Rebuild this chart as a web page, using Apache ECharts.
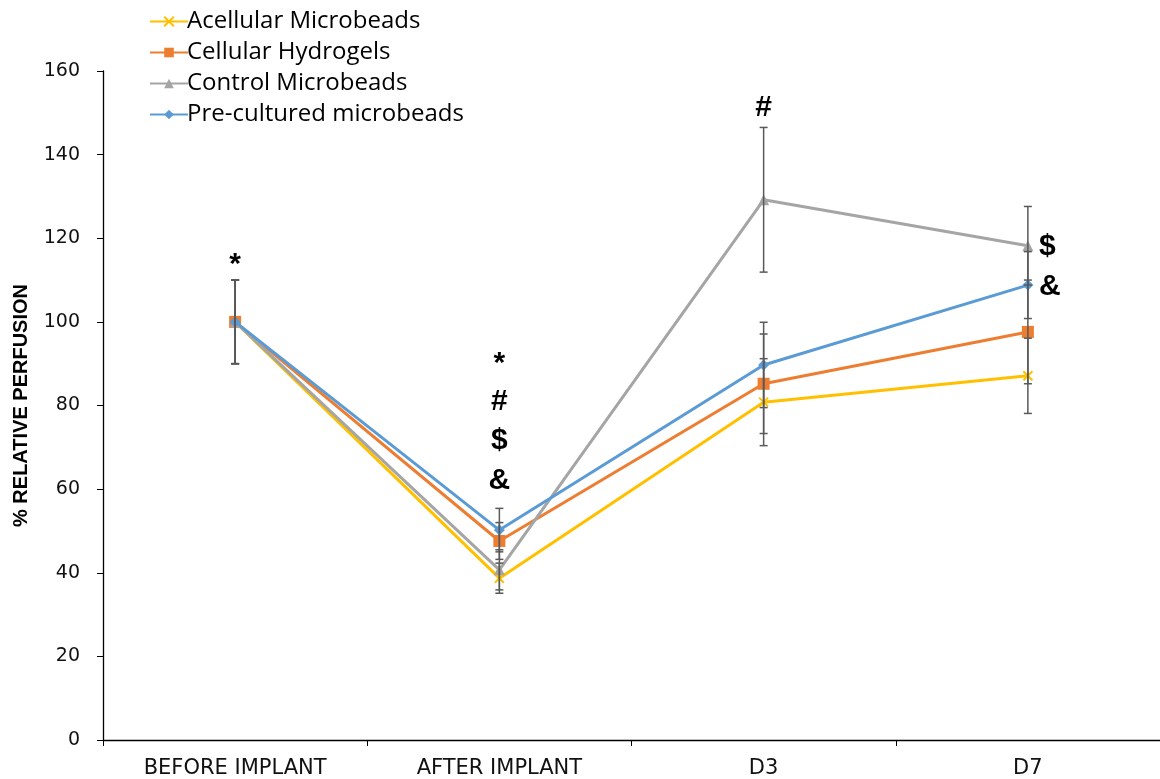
<!DOCTYPE html>
<html>
<head>
<meta charset="utf-8">
<script src="https://cdn.jsdelivr.net/npm/echarts@6/dist/echarts.min.js"></script>
<style>
  html, body { margin: 0; padding: 0; background: #fff; }
  #chart { width: 1160px; height: 779px; }
</style>
</head>
<body>
<div id="chart"></div>
<script>
// Time points
const categories = ['BEFORE IMPLANT', 'AFTER IMPLANT', 'D3', 'D7'];

// Mean relative perfusion (%) per group
const acellular = [100, 38.7, 80.8, 87.1];
const cellular = [100, 47.6, 85.2, 97.6];
const control = [100, 40.7, 129.2, 118.2];
const precultured = [100, 50.2, 89.7, 108.8];

// Error bar half-lengths (SD)
const acellularErr = [10, 3.6, 10.4, 9.0];
const cellularErr = [10, 4.4, 11.9, 12.4];
const controlErr = [10, 4.8, 17.3, 9.4];
const preculturedErr = [10, 5.2, 10.2, 8.0];

// Y axis
const yTicks = [0, 20, 40, 60, 80, 100, 120, 140, 160];

// Significance markers: category index, value level, symbol
const annCategory = [0, 1, 1, 1, 1, 2, 3, 3];
const annValue = [113.6, 90.0, 80.9, 71.5, 62.0, 151.2, 118.0, 108.4];
const annText = ['*', '*', '#', '$', '&', '#', '$', '&'];

const names = ['Acellular Microbeads', 'Cellular Hydrogels', 'Control Microbeads', 'Pre-cultured microbeads'];
const colors = ['#FFC000', '#ED7D31', '#A5A5A5', '#5B9BD5'];
const values = [acellular, cellular, control, precultured];
const errors = [acellularErr, cellularErr, controlErr, preculturedErr];

const crossPath = 'path://M0,0L10,10M10,0L0,10';
const symbols = [crossPath, 'rect', 'triangle', 'diamond'];
const symbolSizes = [9, 12, 11, 11];

const chart = echarts.init(document.getElementById('chart'));

const lineSeries = names.map((name, i) => ({
  name: name,
  type: 'line',
  data: values[i],
  symbol: symbols[i],
  symbolSize: symbolSizes[i],
  showAllSymbol: true,
  lineStyle: { color: colors[i], width: 3 },
  itemStyle: i === 0
    ? { color: 'rgba(0,0,0,0)', borderColor: colors[i], borderWidth: 2 }
    : { color: colors[i], borderWidth: 0 },
  z: 3 + i
}));

// Error bars drawn as custom series: vertical stem with caps
const errorData = [];
values.forEach((vals, s) => {
  vals.forEach((v, c) => {
    errorData.push([c, v - errors[s][c], v + errors[s][c]]);
  });
});

const errorSeries = {
  type: 'custom',
  name: 'err',
  data: errorData,
  z: 8,
  silent: true,
  renderItem: function (params, api) {
    const c = api.value(0);
    const lo = api.coord([c, api.value(1)]);
    const hi = api.coord([c, api.value(2)]);
    const cap = 4;
    const style = { stroke: '#595959', lineWidth: 1.5, fill: null };
    return {
      type: 'group',
      children: [
        { type: 'line', shape: { x1: hi[0], y1: hi[1], x2: lo[0], y2: lo[1] }, style: style },
        { type: 'line', shape: { x1: hi[0] - cap, y1: hi[1], x2: hi[0] + cap, y2: hi[1] }, style: style },
        { type: 'line', shape: { x1: lo[0] - cap, y1: lo[1], x2: lo[0] + cap, y2: lo[1] }, style: style }
      ]
    };
  },
  encode: { x: 0, y: [1, 2] }
};

const option = {
  animation: false,
  backgroundColor: '#fff',
  grid: { left: 103, right: -7, top: 71, bottom: 39, containLabel: false },
  legend: {
    orient: 'vertical',
    left: 144,
    top: 2,
    itemWidth: 38,
    itemHeight: 12,
    itemGap: 2,
    data: names,
    textStyle: { fontFamily: 'Open Sans', fontSize: 24, color: '#000', padding: [0, 0, 0, -6], lineHeight: 29 }
  },
  xAxis: {
    type: 'category',
    data: categories,
    boundaryGap: true,
    axisLine: { lineStyle: { color: '#000', width: 1.3 } },
    axisTick: { show: true, length: 6, lineStyle: { color: '#000' } },
    axisLabel: { fontFamily: 'DejaVu Sans', fontSize: 21, color: '#111', margin: 18 },
    splitLine: { show: false }
  },
  yAxis: {
    type: 'value',
    min: 0,
    max: 160,
    interval: 20,
    name: '% RELATIVE PERFUSION',
    nameLocation: 'middle',
    nameGap: 72,
    nameRotate: 90,
    nameTextStyle: { fontFamily: 'Liberation Sans Narrow, Arial Narrow, sans-serif', fontWeight: 'bold', fontSize: 20, color: '#000' },
    axisLine: { show: true, lineStyle: { color: '#000', width: 1.3 } },
    axisTick: { show: true, length: 6, lineStyle: { color: '#000' } },
    axisLabel: { fontFamily: 'DejaVu Sans', fontSize: 19, color: '#111', margin: 23,
      formatter: v => (yTicks.indexOf(v) >= 0 ? String(v) : '') },
    splitLine: { show: false }
  },
  series: lineSeries.concat([errorSeries])
};

chart.setOption(option);

// Significance markers placed in data coordinates
const graphics = annText.map((t, i) => {
  const p = chart.convertToPixel({ gridIndex: 0 }, [annCategory[i], annValue[i]]);
  const right = annCategory[i] === categories.length - 1;
  return {
    type: 'text',
    x: right ? p[0] + 11 : p[0],
    y: p[1],
    style: {
      text: t,
      fontFamily: 'Liberation Sans, Arial, sans-serif',
      fontWeight: 'bold',
      fontSize: 30,
      fill: '#000',
      textAlign: right ? 'left' : 'center',
      textVerticalAlign: 'middle'
    },
    z: 20
  };
});
chart.setOption({ graphic: graphics });
</script>
</body>
</html>
